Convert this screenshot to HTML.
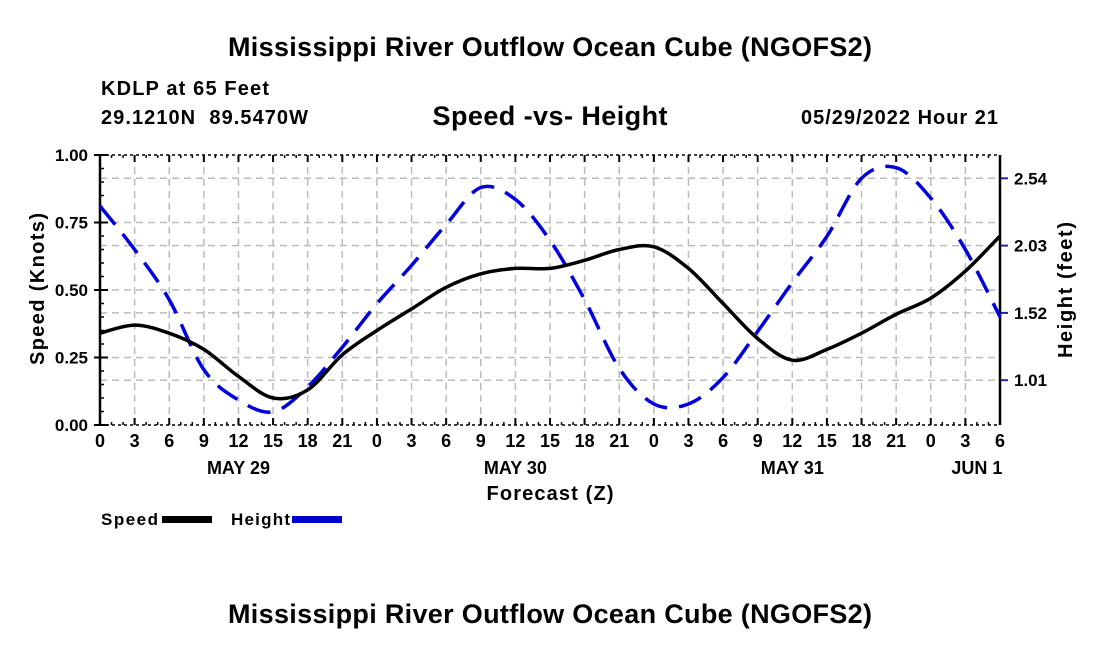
<!DOCTYPE html>
<html><head><meta charset="utf-8"><style>
body{margin:0;background:#fff;width:1100px;height:650px;overflow:hidden;font-family:"Liberation Sans",Arial,sans-serif}
svg text{font-family:"Liberation Sans",Arial,sans-serif;font-weight:bold}
</style></head><body>
<svg id="chart" width="1100" height="650">
<text x="550" y="56" font-size="27" text-anchor="middle" textLength="644">Mississippi River Outflow Ocean Cube (NGOFS2)</text>
<text x="101" y="95" font-size="20" textLength="168">KDLP at 65 Feet</text>
<text x="101" y="124" font-size="20" textLength="207">29.1210N&#160;&#160;89.5470W</text>
<text x="550" y="125" font-size="27" text-anchor="middle" textLength="235">Speed -vs- Height</text>
<text x="998" y="124" font-size="20" text-anchor="end" textLength="197">05/29/2022 Hour 21</text>
<text x="550" y="500" font-size="20" text-anchor="middle" textLength="127">Forecast (Z)</text>
<text transform="translate(44,289) rotate(-90)" font-size="20" text-anchor="middle" textLength="152">Speed (Knots)</text>
<text transform="translate(1072,290) rotate(-90)" font-size="20" text-anchor="middle" textLength="136">Height (feet)</text>
<g>
<text x="101" y="525" font-size="17" textLength="57">Speed</text>
<rect x="162" y="516" width="50" height="7" fill="#000"/>
<text x="231" y="525" font-size="17" textLength="59">Height</text>
<rect x="292" y="516" width="50" height="7" fill="#0000cc"/>
</g>
<text x="550" y="623" font-size="27" text-anchor="middle" textLength="644">Mississippi River Outflow Ocean Cube (NGOFS2)</text>
<g id="plot"></g>
</svg>
<script>
const hours=[0,3,6,9,12,15,18,21,24,27,30,33,36,39,42,45,48,51,54,57,60,63,66,69,72,75,78];
const speed=[0.34,0.37,0.34,0.28,0.18,0.10,0.13,0.26,0.35,0.43,0.51,0.56,0.58,0.58,0.61,0.65,0.66,0.58,0.45,0.32,0.24,0.28,0.34,0.41,0.47,0.57,0.70];
const height=[2.33,2.00,1.62,1.09,0.86,0.77,0.96,1.26,1.59,1.88,2.19,2.47,2.38,2.07,1.62,1.10,0.83,0.83,1.03,1.38,1.75,2.10,2.54,2.62,2.39,2.00,1.49];
const xTickLabels=["0","3","6","9","12","15","18","21","0","3","6","9","12","15","18","21","0","3","6","9","12","15","18","21","0","3","6"];
const dayLabels=["MAY 29","MAY 30","MAY 31","JUN 1"];
const dayHours=[12,36,60,76];
const speedTicks=[0,0.25,0.5,0.75,1.0];
const heightTicks=[1.01,1.52,2.03,2.54];
const L=100,R=1000,T=155,B=425;
const xs=h=>L+(R-L)*h/78;
const ys=v=>B-(B-T)*v;
const yh=h=>178.3+(2.54-h)/0.51*67.3;
const NS="http://www.w3.org/2000/svg";
const g=document.getElementById('plot');
function mk(t,a,p){const e=document.createElementNS(NS,t);for(const k in a)e.setAttribute(k,a[k]);(p||g).appendChild(e);return e;}
hours.forEach(h=>{if(h>0&&h<78){const e=mk('line',{x1:xs(h),x2:xs(h),y1:T,y2:B,stroke:'#bbb','stroke-width':1.5,'stroke-dasharray':'7,5'});

}});
speedTicks.slice(1,4).forEach(v=>{const e=mk('line',{x1:L,x2:R,y1:ys(v),y2:ys(v),stroke:'#bbb','stroke-width':1.5,'stroke-dasharray':'7,5'});

});
heightTicks.forEach(v=>{const e=mk('line',{x1:L,x2:R,y1:yh(v),y2:yh(v),stroke:'#bbb','stroke-width':1.5,'stroke-dasharray':'7,5'});

});
for(let h=0;h<=78;h++){mk('line',{x1:xs(h),x2:xs(h),y1:T,y2:T+3,stroke:'#000','stroke-width':1.5});mk('line',{x1:xs(h),x2:xs(h),y1:B,y2:B-3,stroke:'#000','stroke-width':1.5});}
hours.forEach((h,i)=>{mk('line',{x1:xs(h),x2:xs(h),y1:T,y2:T+7,stroke:'#000','stroke-width':2});mk('line',{x1:xs(h),x2:xs(h),y1:B,y2:B-7,stroke:'#000','stroke-width':2});
const t=mk('text',{x:xs(h),y:B+22,'font-size':18,'text-anchor':'middle'});t.textContent=xTickLabels[i];

});
dayLabels.forEach((d,i)=>{const t=mk('text',{x:xs(dayHours[i]),y:B+49,'font-size':18,'text-anchor':'middle'});t.textContent=d;

});
for(let v=0;v<=1.0001;v+=0.05){mk('line',{x1:L,x2:L+4,y1:ys(v),y2:ys(v),stroke:'#000','stroke-width':1.5});}
speedTicks.forEach(v=>{mk('line',{x1:L-6,x2:L+8,y1:ys(v),y2:ys(v),stroke:'#000','stroke-width':2});
const t=mk('text',{x:L-12,y:ys(v)+6,'font-size':17,'text-anchor':'end'});t.textContent=v.toFixed(2);

});
heightTicks.forEach(v=>{mk('line',{x1:R,x2:R+8,y1:yh(v),y2:yh(v),stroke:'#2222aa','stroke-width':2});
const t=mk('text',{x:R+14,y:yh(v)+6,'font-size':17});t.textContent=v.toFixed(2);

});
mk('line',{x1:L,x2:R,y1:T,y2:T,stroke:'#000','stroke-width':1.5,'stroke-dasharray':'3,3'});
mk('line',{x1:L,x2:R,y1:B,y2:B,stroke:'#000','stroke-width':1.5,'stroke-dasharray':'3,3'});
mk('line',{x1:L,x2:L,y1:T,y2:B,stroke:'#000','stroke-width':2.5});
mk('line',{x1:R,x2:R,y1:T,y2:B,stroke:'#000','stroke-width':2.5});
function path(pts){let d='M'+pts[0][0]+','+pts[0][1];for(let i=0;i<pts.length-1;i++){const p0=pts[Math.max(0,i-1)],p1=pts[i],p2=pts[i+1],p3=pts[Math.min(pts.length-1,i+2)];
d+=' C'+(p1[0]+(p2[0]-p0[0])/6)+','+(p1[1]+(p2[1]-p0[1])/6)+' '+(p2[0]-(p3[0]-p1[0])/6)+','+(p2[1]-(p3[1]-p1[1])/6)+' '+p2[0]+','+p2[1];}return d;}
const hp=mk('path',{d:path(hours.map((h,i)=>[xs(h),yh(height[i])])),fill:'none',stroke:'#0000dd','stroke-width':3.5,'stroke-dasharray':'24,12'});


const sp=mk('path',{d:path(hours.map((h,i)=>[xs(h),ys(speed[i])])),fill:'none',stroke:'#000','stroke-width':3.5});


</script>
</body></html>
